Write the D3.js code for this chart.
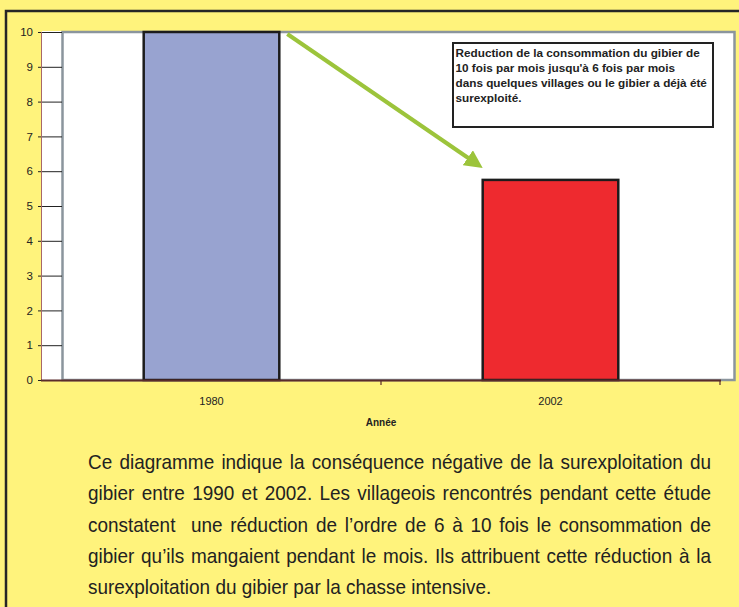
<!DOCTYPE html>
<html>
<head>
<meta charset="utf-8">
<script src="https://cdn.jsdelivr.net/npm/d3@7"></script>
<style>
  body { margin: 0; background: #fff37c; }
  svg { display: block; }
  text { font-family: "Liberation Sans", Arial, sans-serif; fill: #222; }
</style>
</head>
<body>
<svg id="board"></svg>
<script>
// chart values
let years = ['1980', '2002']
let values = [10, 5.75]
let barColors = ['#98a3d0', '#ee2a2f']
let yTicks = [0, 1, 2, 3, 4, 5, 6, 7, 8, 9, 10]
let noteLines = [
  'Reduction de la consommation du gibier de',
  "10 fois par mois jusqu'à 6 fois par mois",
  'dans quelques villages ou le gibier a déjà été',
  'surexploité.'
]
let paragraph = [
  'Ce diagramme indique la conséquence négative de la surexploitation du',
  'gibier entre 1990 et 2002. Les villageois rencontrés pendant cette étude',
  'constatent  une réduction de l’ordre de 6 à 10 fois le consommation de',
  'gibier qu’ils mangaient pendant le mois. Ils attribuent cette réduction à la',
  'surexploitation du gibier par la chasse intensive.'
]

let width = 739
let height = 607

let board = d3.select('#board')
    .attr('width', width)
    .attr('height', height)

board.append('rect')
    .attr('width', width).attr('height', height)
    .attr('fill', '#fff37c')

// outer frame (top and left only are visible)
board.append('path')
    .attr('d', 'M6,607 L6,11 L739,11')
    .attr('fill', 'none')
    .attr('stroke', '#262626')
    .attr('stroke-width', 2.5)

// plot area
board.append('rect')
    .attr('x', 42).attr('y', 31)
    .attr('width', 693).attr('height', 350)
    .attr('fill', '#fff')
board.append('rect')
    .attr('x', 62.5).attr('y', 32)
    .attr('width', 672).attr('height', 348)
    .attr('fill', 'none')
    .attr('stroke', '#8b959d')
    .attr('stroke-width', 2.5)

let yScale = d3.scaleLinear()
    .domain([0, 10])
    .range([380, 32])

let xScale = d3.scaleBand()
    .domain(years)
    .range([42, 720])
    .paddingInner(0.6)
    .paddingOuter(0.3)

// y axis
let yAxis = d3.axisLeft(yScale)
    .tickValues(yTicks)
    .tickSize(24)
    .tickPadding(5)
board.append('g')
    .attr('transform', 'translate(62,0)')
    .call(yAxis)
    .call(g => g.select('.domain').remove())
    .call(g => g.selectAll('.tick line').attr('stroke', '#222'))
    .call(g => g.selectAll('.tick text').attr('font-size', 11.5).attr('fill', '#222')
        .attr('font-family', '"Liberation Sans", Arial, sans-serif'))

board.append('line')
    .attr('x1', 41.5).attr('x2', 41.5)
    .attr('y1', 32).attr('y2', 381)
    .attr('stroke', '#a86868')
    .attr('stroke-width', 1)

// bars
board.selectAll('.bar')
    .data(years)
    .enter()
    .append('rect')
    .attr('class', 'bar')
    .attr('x', d => xScale(d))
    .attr('y', (d, i) => yScale(values[i]))
    .attr('width', xScale.bandwidth())
    .attr('height', (d, i) => yScale(0) - yScale(values[i]))
    .attr('fill', (d, i) => barColors[i])
    .attr('stroke', '#1c1c1c')
    .attr('stroke-width', 2.5)

// x axis
let xAxis = d3.axisBottom(xScale)
    .tickSize(0)
    .tickPadding(17)
board.append('g')
    .attr('transform', 'translate(0,380)')
    .call(xAxis)
    .call(g => g.select('.domain').remove())
    .call(g => g.selectAll('.tick text').attr('font-size', 11).attr('fill', '#222')
        .attr('font-family', '"Liberation Sans", Arial, sans-serif'))

board.append('line')
    .attr('x1', 41).attr('x2', 721)
    .attr('y1', 380.5).attr('y2', 380.5)
    .attr('stroke', '#5a2b2b')
    .attr('stroke-width', 2)

let bounds = years.map((d, i) => xScale.range()[0] + (i + 1) * xScale.step())
board.selectAll('.xtick')
    .data(bounds)
    .enter()
    .append('line')
    .attr('x1', d => d).attr('x2', d => d)
    .attr('y1', 380).attr('y2', 385)
    .attr('stroke', '#5a2b2b')
    .attr('stroke-width', 1.2)

board.append('text')
    .attr('x', 381).attr('y', 426)
    .attr('text-anchor', 'middle')
    .attr('font-size', 10)
    .attr('font-weight', 'bold')
    .text('Année')

// green arrow from the 1980 bar to the 2002 bar
board.append('defs').append('marker')
    .attr('id', 'head')
    .attr('markerUnits', 'userSpaceOnUse')
    .attr('viewBox', '0 0 10 10')
    .attr('refX', 2).attr('refY', 5)
    .attr('markerWidth', 18).attr('markerHeight', 18)
    .attr('orient', 'auto')
    .append('path')
    .attr('d', 'M0,0 L10,5 L0,10 Z')
    .attr('fill', '#9cc43b')

let x0 = xScale('1980') + xScale.bandwidth() + 8
let y0 = yScale(values[0]) + 2
let tipX = xScale('2002')
let tipY = yScale(values[1]) - 12
let len = Math.hypot(tipX - x0, tipY - y0)
let back = 14.4
board.append('line')
    .attr('x1', x0).attr('y1', y0)
    .attr('x2', tipX - back * (tipX - x0) / len)
    .attr('y2', tipY - back * (tipY - y0) / len)
    .attr('stroke', '#9cc43b')
    .attr('stroke-width', 4)
    .attr('marker-end', 'url(#head)')

// note box
board.append('rect')
    .attr('x', 453).attr('y', 43)
    .attr('width', 260).attr('height', 84)
    .attr('fill', '#fff')
    .attr('stroke', '#222')
    .attr('stroke-width', 2)

board.selectAll('.note')
    .data(noteLines)
    .enter()
    .append('text')
    .attr('class', 'note')
    .attr('x', 455.5)
    .attr('y', (d, i) => 56.5 + i * 15)
    .attr('font-size', 11.75)
    .attr('font-weight', 'bold')
    .text(d => d)

// paragraph under the chart, justified, condensed like a narrow face
let squeeze = 0.92
let paraLeft = 88
let paraWidth = 623
let para = board.selectAll('.para')
    .data(paragraph)
    .enter()
    .append('text')
    .attr('class', 'para')
    .attr('transform', (d, i) => 'translate(' + paraLeft + ',' + (469 + i * 31.3) + ') scale(' + squeeze + ',1)')
    .attr('font-size', 20.6)
    .style('white-space', 'pre')
    .text(d => d)

para.each(function(d, i) {
    if (i === paragraph.length - 1) return
    let spaces = d.split(' ').length - 1
    let w = this.getComputedTextLength()
    d3.select(this).attr('word-spacing', (paraWidth / squeeze - w) / spaces)
})
</script>
</body>
</html>
